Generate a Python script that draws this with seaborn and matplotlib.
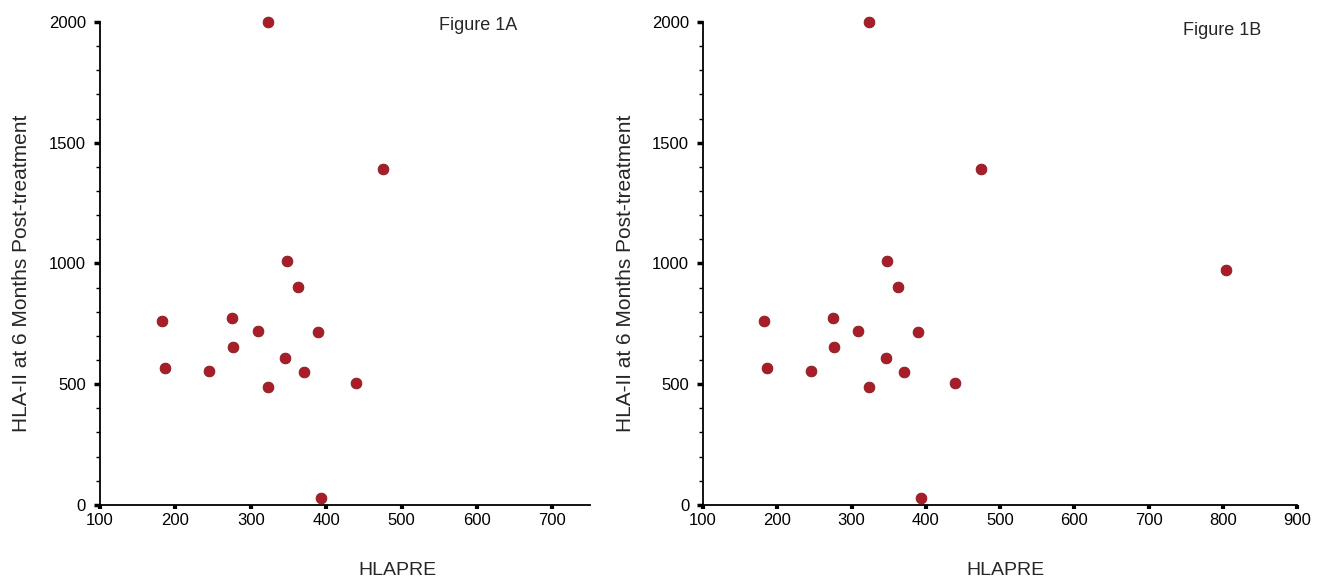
import matplotlib
matplotlib.use("Agg")
import matplotlib.pyplot as plt
import seaborn as sns
import pandas as pd
from matplotlib.ticker import MultipleLocator

# -- Data --------------------------------------------------------
hlapre_a = [323, 475, 348, 363, 182, 275, 309, 389, 277, 346, 186, 245, 370, 323, 439, 393]
hla6m_a  = [2000, 1392, 1012, 901, 762, 774, 721, 715, 655, 610, 568, 556, 550, 489, 503, 29]
# Figure 1B = same points plus one outlier
hlapre_b = hlapre_a + [805]
hla6m_b  = hla6m_a + [975]

df_a = pd.DataFrame({"HLAPRE": hlapre_a, "HLA6M": hla6m_a})
df_b = pd.DataFrame({"HLAPRE": hlapre_b, "HLA6M": hla6m_b})

sns.set_style("ticks")
plt.rcParams["font.family"] = ["Liberation Sans", "DejaVu Sans"]

DOT = "#A81E28"
fig = plt.figure(figsize=(13.22, 5.81), dpi=100)
ax_a = fig.add_axes([0.0756, 0.131, 0.3707, 0.831])
ax_b = fig.add_axes([0.5318, 0.131, 0.4493, 0.831])

panels = [(ax_a, df_a, (100, 750), -0.14, 0.607),
          (ax_b, df_b, (100, 900), -0.114, 0.509)]

for ax, d, xlim, ylab_x, xlab_x in panels:
    sns.scatterplot(data=d, x="HLAPRE", y="HLA6M", ax=ax, color=DOT,
                    s=60, edgecolor="#8A1820", linewidth=0.6, clip_on=False,
                    zorder=3)
    ax.set_xlim(*xlim)
    ax.set_ylim(0, 2000)
    ax.xaxis.set_major_locator(MultipleLocator(100))
    ax.yaxis.set_major_locator(MultipleLocator(500))
    ax.yaxis.set_minor_locator(MultipleLocator(100))
    sns.despine(ax=ax)
    for s in ["left", "bottom"]:
        ax.spines[s].set_linewidth(1.3)
        ax.spines[s].set_color("black")
    ax.tick_params(axis="x", which="major", direction="out", length=3,
                   width=3, labelsize=12, pad=3, colors="black")
    ax.tick_params(axis="y", which="major", direction="out", length=4,
                   width=2.5, labelsize=12, pad=6, colors="black")
    ax.tick_params(axis="y", which="minor", direction="out", length=3,
                   width=1, colors="black")
    ax.set_xlabel("HLAPRE", fontsize=14)
    ax.set_ylabel("HLA-II at 6 Months Post-treatment", fontsize=15)
    ax.xaxis.set_label_coords(xlab_x, -0.118)
    ax.yaxis.set_label_coords(ylab_x, 0.48)

fig.text(0.332, 0.956, "Figure 1A", fontsize=13, va="center", ha="left")
fig.text(0.895, 0.947, "Figure 1B", fontsize=13, va="center", ha="left")

plt.savefig("out.png", dpi=100)
plt.close()
